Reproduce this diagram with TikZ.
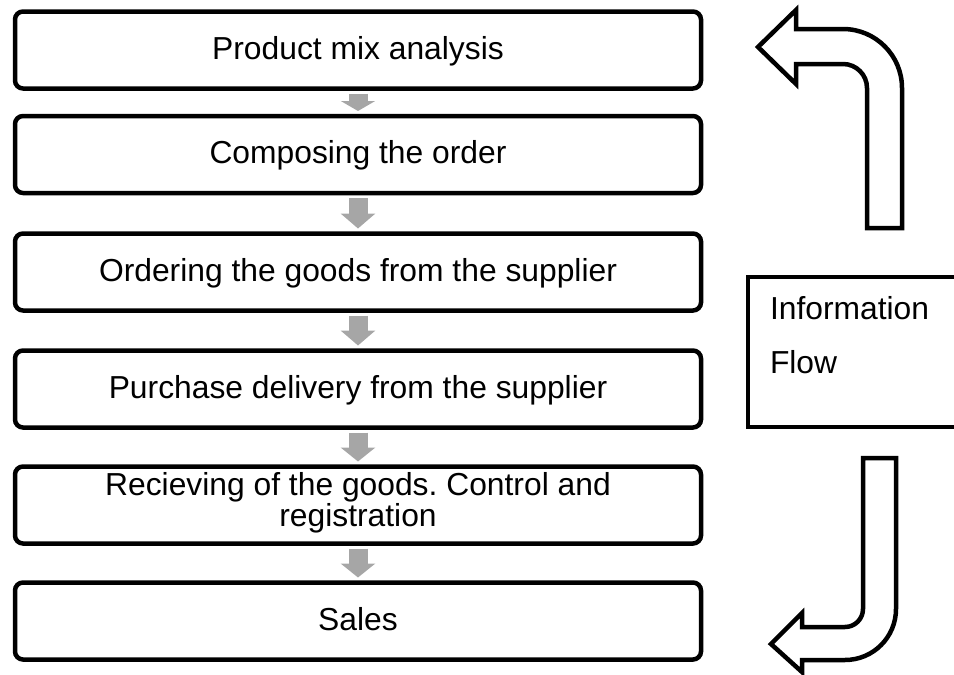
\documentclass[tikz,border=0pt]{standalone}
\usepackage{fontspec}
\setmainfont{Liberation Sans}
\usetikzlibrary{arrows.meta}
\definecolor{arrgray}{RGB}{166,166,166}
\frenchspacing
\begin{document}
\begin{tikzpicture}[x=1pt,y=-1pt,
  stepbox/.style={draw, line width=4.5pt, rounded corners=8pt, minimum width=686pt, minimum height=77pt, inner sep=0pt, outer sep=0pt},
  lbl/.style={font=\fontsize{31.8}{27}\selectfont, inner sep=0pt, outer sep=0pt},
  gconn/.style={draw=arrgray, line width=19pt},
  blockarrow/.style={draw, line width=4.5pt, fill=white, line join=miter}]
\useasboundingbox (0,0) rectangle (954,675);

% process boxes
\node[stepbox] (b1) at (358,50) {};
\node[stepbox] (b2) at (358,154.5) {};
\node[stepbox] (b3) at (358,272) {};
\node[stepbox] (b4) at (358,389) {};
\node[stepbox] (b5) at (358,505) {};
\node[stepbox] (b6) at (358,621) {};

% labels
\node[lbl, anchor=base, yshift=-9pt] (t1) at (b1.center) {Product mix analysis};
\node[lbl, anchor=base, yshift=-9pt] (t2) at (b2.center) {Composing the order};
\node[lbl, anchor=base, yshift=-9pt] (t3) at (b3.center) {Ordering the goods from the supplier};
\node[lbl, anchor=base, yshift=-9pt] (t4) at (b4.center) {Purchase delivery from the supplier};
\node[lbl, align=center, yshift=2.5pt] (t5) at (b5.center) {Recieving of the goods.\ Control and\\registration};
\node[lbl, anchor=base, yshift=-9pt] (t6) at (b6.center) {Sales};

% gray connectors
\draw[gconn, -{Triangle[width=34pt,length=10pt]}] ([yshift=-5pt]b1.south) -- ([yshift=5pt]b2.north);
\draw[gconn, -{Triangle[width=34pt,length=15pt]}] ([yshift=-5pt]b2.south) -- ([yshift=5pt]b3.north);
\draw[gconn, -{Triangle[width=34pt,length=15pt]}] ([yshift=-5pt]b3.south) -- ([yshift=5pt]b4.north);
\draw[gconn, -{Triangle[width=34pt,length=14pt]}] ([yshift=-5pt]b4.south) -- ([yshift=5pt]b5.north);
\draw[gconn, -{Triangle[width=34pt,length=14pt]}] ([yshift=-5pt]b5.south) -- ([yshift=5pt]b6.north);

% information box
\node[draw, line width=4.5pt, minimum width=230pt, minimum height=150pt, anchor=north west, inner sep=0pt, outer sep=0pt] (info) at (748,277) {};
\node[lbl, anchor=base west] (iinfo) at (770,319) {Information};
\node[lbl, anchor=base west] (iflow) at (770,373) {Flow};

% block arrows
\draw[blockarrow] (758,47) -- (796,10) -- (796,29) -- (843,29)
  arc[start angle=270,end angle=360,radius=59] -- (902,228) -- (867,228) -- (867,88)
  arc[start angle=0,end angle=-90,radius=24] -- (796,64) -- (796,84) -- cycle;
\draw[blockarrow] (771,644) -- (802,613) -- (802,627) -- (845,627)
  arc[start angle=90,end angle=0,radius=18] -- (863,458) -- (896,458) -- (896,609)
  arc[start angle=0,end angle=90,radius=51] -- (802,660) -- (802,672) -- cycle;
\end{tikzpicture}
\end{document}
